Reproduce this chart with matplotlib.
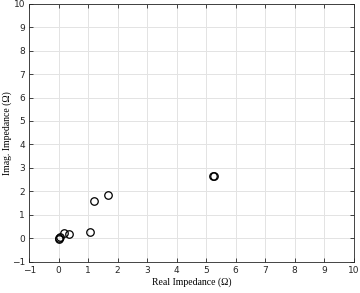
import matplotlib
matplotlib.use("Agg")
import matplotlib.pyplot as plt

# impedance measurements (ohm)
real_part = [0.0, 0.02, 0.05, 0.17, 0.34, 1.07, 1.21, 1.66, 5.25, 5.26]
imag_part = [0.0, -0.02, 0.03, 0.21, 0.16, 0.26, 1.58, 1.82, 2.64, 2.66]

x_ticks = list(range(-1, 11))
y_ticks = list(range(-1, 11))

fig = plt.figure(figsize=(3.6, 2.93), dpi=100)
ax = fig.add_axes([0.081, 0.1075, 0.901, 0.8795])

ax.plot(real_part, imag_part, linestyle="none", marker="o", markersize=5.4,
        markerfacecolor="none", markeredgecolor="black", markeredgewidth=0.9)

ax.set_xlim(-1, 10)
ax.set_ylim(-1, 10)
ax.set_xticks(x_ticks)
ax.set_yticks(y_ticks)
ax.grid(True, color="#e3e3e3", linewidth=0.7)
ax.set_axisbelow(True)
ax.tick_params(direction="in", top=True, right=True, length=3, width=0.6,
               labelsize=6.5, pad=3, colors="#262626")
for s in ax.spines.values():
    s.set_linewidth(0.6)
    s.set_color("#262626")

ax.set_xlabel("Real Impedance (\u03a9)", family="Liberation Serif", fontsize=7)
ax.set_ylabel("Imag. Impedance (\u03a9)", family="Liberation Serif", fontsize=7)
ax.xaxis.set_label_coords(0.5, -0.062)
ax.yaxis.set_label_coords(-0.054, 0.5)

fig.savefig("out.png", dpi=100)
